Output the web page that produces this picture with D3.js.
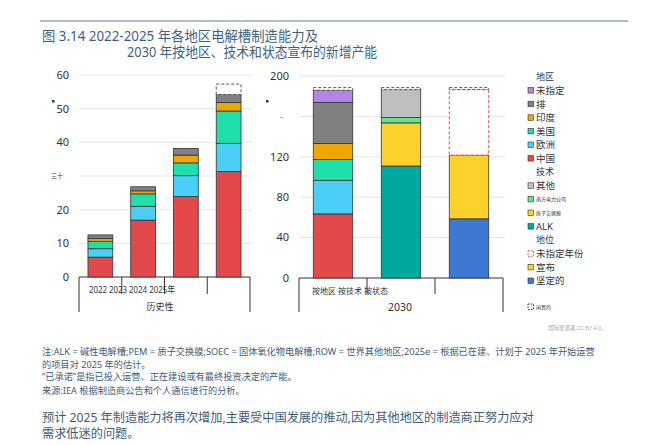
<!DOCTYPE html>
<html>
<head>
<meta charset="utf-8">
<script src="https://d3js.org/d3.v7.min.js"></script>
<style>
  body { margin: 0; background: #fff; }
  text { font-family: "Noto Sans", "Noto Sans CJK SC", sans-serif; }
</style>
</head>
<body>
<script>
// ---- data ----
const histYears = ["2022", "2023", "2024", "2025e"];
const histChina = [5.9, 16.9, 23.9, 31.3];
const histEurope = [2.5, 4.1, 6.2, 8.4];
const histUS = [2.2, 3.7, 3.8, 9.6];
const histIndia = [0.8, 0.9, 2.3, 2.5];
const histRow = [1.1, 1.2, 2.0, 2.4];
const histIdle = [0, 0, 0, 3.1];

const groups2030 = ["按地区", "按技术", "按状态"];
const regionKeys = ["中国", "欧洲", "美国", "印度", "排", "未指定"];
const region2030 = [63.5, 33.2, 20.7, 15.8, 40.5, 12.2];
const techKeys = ["ALK", "质子交换膜", "南方电力公司", "其他"];
const tech2030 = [110.9, 42.7, 5.3, 27.6];
const statusKeys = ["坚定的", "宣布", "未指定年份"];
const status2030 = [58.6, 63.1, 64.8];
const idle2030 = [2.6, 2.0, 2.0];

const leftTicks = [0, 10, 20, 30, 40, 50, 60];
const leftTickLabels = ["0", "10", "20", "三十", "40", "50", "60"];
const rightTicks = [0, 40, 80, 120, 160, 200];
const rightTickLabels = ["0", "40", "80", "120", "–", "200"];

const colors = {
  "中国": "#e2494b", "欧洲": "#4ccff7", "美国": "#1fdfaa", "印度": "#efa600",
  "排": "#808080", "未指定": "#b483ea",
  "ALK": "#00a99b", "质子交换膜": "#fdd12c", "南方电力公司": "#62e38e", "其他": "#bfbfbf",
  "坚定的": "#3d78d2", "宣布": "#fdd12c"
};

const W = 650, H = 445;
const svg = d3.select("body").append("svg").attr("width", W).attr("height", H);

// header
svg.append("line").attr("x1", 40).attr("x2", 628).attr("y1", 21).attr("y2", 21)
  .attr("stroke", "#5b7a99").attr("stroke-width", 1);
svg.append("text").attr("x", 42).attr("y", 41).attr("fill", "#3f5f82").attr("font-size", 13.5)
  .attr("textLength", 276).attr("lengthAdjust", "spacingAndGlyphs")
  .text("图 3.14 2022-2025 年各地区电解槽制造能力及");
svg.append("text").attr("x", 127).attr("y", 57).attr("fill", "#3f5f82").attr("font-size", 13.5)
  .attr("textLength", 250).attr("lengthAdjust", "spacingAndGlyphs")
  .text("2030 年按地区、技术和状态宣布的新增产能");

function drawFrame(x, y, ticks, labels, gridRight, labelX) {
  const g = svg.append("g");
  g.selectAll("line.grid").data(ticks.filter(t => t > 0)).join("line")
    .attr("x1", x.range()[0]).attr("x2", gridRight)
    .attr("y1", d => y(d)).attr("y2", d => y(d))
    .attr("stroke", "#e6e6e6");
  g.selectAll("text.tick").data(ticks).join("text")
    .attr("x", (d, i) => isNaN(+labels[i]) ? labelX - 6 : labelX)
    .attr("y", d => y(d)).attr("dy", "0.35em")
    .attr("text-anchor", "end").attr("fill", "#333")
    .attr("font-size", (d, i) => isNaN(+labels[i]) ? 6 : 11)
    .text((d, i) => labels[i]);
  // category frame
  const [r0, r1] = x.range();
  const n = x.domain().length, step = (r1 - r0) / n;
  g.append("line").attr("x1", r0).attr("x2", r1).attr("y1", y(0)).attr("y2", y(0))
    .attr("stroke", "#333").attr("stroke-width", 1.2);
  d3.range(n + 1).forEach(i => {
    const edge = i === 0 || i === n;
    g.append("line").attr("x1", r0 + i * step).attr("x2", r0 + i * step)
      .attr("y1", y(0)).attr("y2", edge ? 312 : 294)
      .attr("stroke", "#333").attr("stroke-width", 1);
  });
}

function drawStack(x, y, cat, segs) {
  let base = 0;
  segs.forEach(s => {
    if (!s.value) return;
    const top = base + s.value;
    const r = svg.append("rect")
      .attr("x", x(cat)).attr("width", x.bandwidth())
      .attr("y", y(top)).attr("height", y(base) - y(top));
    if (s.dash) {
      r.attr("fill", "#fff").attr("stroke", s.dash).attr("stroke-width", 1)
        .attr("stroke-dasharray", "3,2");
    } else {
      r.attr("fill", colors[s.key]).attr("stroke", "#333").attr("stroke-width", 0.8);
    }
    base = top;
  });
}

// ---- left: historical ----
const xL = d3.scaleBand().domain(histYears).range([79, 250]).paddingInner(0.42).paddingOuter(0.21);
const yL = d3.scaleLinear().domain([0, 60]).range([277, 75]);
drawFrame(xL, yL, leftTicks, leftTickLabels, 252, 69);
histYears.forEach((yr, i) => {
  drawStack(xL, yL, yr, [
    { key: "中国", value: histChina[i] },
    { key: "欧洲", value: histEurope[i] },
    { key: "美国", value: histUS[i] },
    { key: "印度", value: histIndia[i] },
    { key: "排", value: histRow[i] },
    { key: "idle", value: histIdle[i], dash: "#555" }
  ]);
});
svg.append("text").attr("x", 89).attr("y", 293).attr("font-size", 9.5).attr("fill", "#333")
  .attr("textLength", 86).attr("lengthAdjust", "spacingAndGlyphs")
  .text("2022 2023 2024 2025年");
svg.append("text").attr("x", 160).attr("y", 310).attr("font-size", 9).attr("fill", "#333")
  .attr("text-anchor", "middle").text("历史性");
svg.append("rect").attr("x", 52).attr("y", 100).attr("width", 2.5).attr("height", 2.5).attr("fill", "#333");

// ---- right: 2030 ----
const xR = d3.scaleBand().domain(groups2030).range([299, 503]).paddingInner(0.42).paddingOuter(0.21);
const yR = d3.scaleLinear().domain([0, 200]).range([278, 76]);
drawFrame(xR, yR, rightTicks, rightTickLabels, 505, 289);
drawStack(xR, yR, groups2030[0],
  regionKeys.map((k, i) => ({ key: k, value: region2030[i] }))
    .concat([{ key: "idle", value: idle2030[0], dash: "#555" }]));
drawStack(xR, yR, groups2030[1],
  techKeys.map((k, i) => ({ key: k, value: tech2030[i] }))
    .concat([{ key: "idle", value: idle2030[1], dash: "#555" }]));
drawStack(xR, yR, groups2030[2],
  statusKeys.map((k, i) => ({ key: k, value: status2030[i], dash: k === "未指定年份" ? "#e2494b" : null }))
    .concat([{ key: "idle", value: idle2030[2], dash: "#555" }]));
svg.append("text").attr("x", 312).attr("y", 294).attr("font-size", 8.5).attr("fill", "#333")
  .attr("textLength", 76).attr("lengthAdjust", "spacingAndGlyphs")
  .text(groups2030.join(" "));
svg.append("text").attr("x", 400).attr("y", 311).attr("font-size", 10.5).attr("fill", "#333")
  .attr("text-anchor", "middle").text("2030");
svg.append("rect").attr("x", 266).attr("y", 100).attr("width", 2.5).attr("height", 2.5).attr("fill", "#333");

// ---- legend ----
const legendItems = [
  { head: "地区" },
  { key: "未指定" }, { key: "排" }, { key: "印度" }, { key: "美国" }, { key: "欧洲" }, { key: "中国" },
  { head: "技术" },
  { key: "其他" }, { key: "南方电力公司", small: true }, { key: "质子交换膜", small: true }, { key: "ALK" },
  { head: "地位" },
  { key: "未指定年份", dash: "#e2494b" }, { key: "宣布" }, { key: "坚定的" }
];
const lg = svg.append("g");
legendItems.forEach((it, i) => {
  const ly = 77 + i * 13.6;
  if (it.head) {
    lg.append("text").attr("x", 536).attr("y", ly).attr("dy", "0.35em")
      .attr("font-size", 9).attr("fill", "#333").text(it.head);
    return;
  }
  const sq = lg.append("rect").attr("x", 528).attr("y", ly - 3).attr("width", 5.5).attr("height", 5.5);
  if (it.dash) sq.attr("fill", "#fff").attr("stroke", it.dash).attr("stroke-dasharray", "1.5,1.5");
  else sq.attr("fill", colors[it.key]).attr("stroke", "#333").attr("stroke-width", 0.6);
  lg.append("text").attr("x", 536).attr("y", ly).attr("dy", "0.35em")
    .attr("font-size", it.small ? 5 : 9.5).attr("fill", "#333").text(it.key);
});
lg.append("rect").attr("x", 528).attr("y", 304).attr("width", 5.5).attr("height", 5.5)
  .attr("fill", "#fff").attr("stroke", "#333").attr("stroke-dasharray", "1.5,1.5");
lg.append("text").attr("x", 536).attr("y", 307).attr("dy", "0.35em").attr("font-size", 5)
  .attr("fill", "#333").text("闲置的");
svg.append("text").attr("x", 548).attr("y", 330).attr("font-size", 5.5).attr("fill", "#aaa")
  .text("国际能源署,CC BY 4.0。");

// ---- notes ----
const notes = [
  { y: 355, s: 9.2, t: "注:ALK = 碱性电解槽;PEM = 质子交换膜;SOEC = 固体氧化物电解槽;ROW = 世界其他地区;2025e = 根据已在建、计划于 2025 年开始运营" },
  { y: 368, s: 9.2, t: "的项目对 2025 年的估计。" },
  { y: 380, s: 9.2, t: "“已承诺”是指已投入运营、正在建设或有最终投资决定的产能。" },
  { y: 394, s: 9.2, t: "来源:IEA 根据制造商公告和个人通信进行的分析。" },
  { y: 422, s: 12.2, t: "预计 2025 年制造能力将再次增加,主要受中国发展的推动,因为其他地区的制造商正努力应对" },
  { y: 438, s: 12.2, t: "需求低迷的问题。" }
];
svg.selectAll("text.note").data(notes).join("text")
  .attr("x", 42).attr("y", d => d.y).attr("font-size", d => d.s)
  .attr("fill", "#3f5a78").text(d => d.t);
</script>
</body>
</html>
